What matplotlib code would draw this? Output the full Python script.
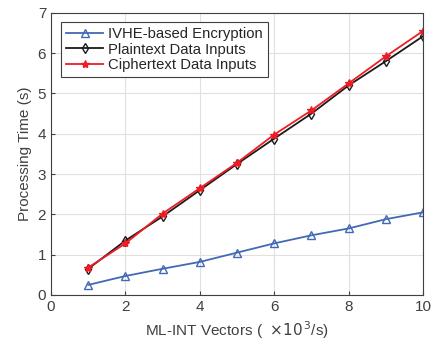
import matplotlib
matplotlib.use('Agg')
import matplotlib.pyplot as plt

plt.rcParams['font.family'] = ['Liberation Sans', 'DejaVu Sans']

x = [1, 2, 3, 4, 5, 6, 7, 8, 9, 10]
ivhe = [0.25, 0.47, 0.65, 0.82, 1.05, 1.28, 1.48, 1.65, 1.88, 2.05]
plain = [0.65, 1.35, 1.95, 2.60, 3.25, 3.88, 4.50, 5.20, 5.80, 6.42]
cipher = [0.68, 1.28, 2.02, 2.65, 3.28, 3.98, 4.58, 5.25, 5.92, 6.55]

fig = plt.figure(figsize=(4.33, 3.47), dpi=100)
ax = fig.add_axes([0.118, 0.150, 0.859, 0.813])

ax.plot(x, ivhe, color='#4169b4', marker='^', mfc='none', ms=6, lw=1.3,
        label='IVHE-based Encryption')
ax.plot(x, plain, color='#1a1a1a', marker='d', mfc='none', ms=5, lw=1.3,
        label='Plaintext Data Inputs')
ax.plot(x, cipher, color='#ee1c25', marker='*', ms=6, lw=1.3,
        label='Ciphertext Data Inputs')

ax.set_xlim(0, 10)
ax.set_ylim(0, 7)
ax.set_xticks(range(0, 11, 2))
ax.set_yticks(range(0, 8))
ax.grid(True, color='#e0e0e0', lw=0.8)
ax.set_axisbelow(True)
ax.tick_params(labelsize=11, colors='#404040', direction='in', length=3)
for s in ax.spines.values():
    s.set_color('#404040')
    s.set_linewidth(0.8)

ax.set_xlabel(r'ML-INT Vectors (  $\times10^{\,3}$/s)', fontsize=11, color='#404040')
ax.set_ylabel('Processing Time (s)', fontsize=11, color='#404040')

leg = ax.legend(loc='upper left', bbox_to_anchor=(0.015, 0.985), fontsize=10.7,
                fancybox=False, framealpha=1, edgecolor='#404040',
                handlelength=2.5, borderpad=0.35, labelspacing=0.12,
                handletextpad=0.3, borderaxespad=0.3)
leg.get_frame().set_linewidth(0.8)
for t in leg.get_texts():
    t.set_color('#262626')

fig.savefig('out.png', dpi=100)
